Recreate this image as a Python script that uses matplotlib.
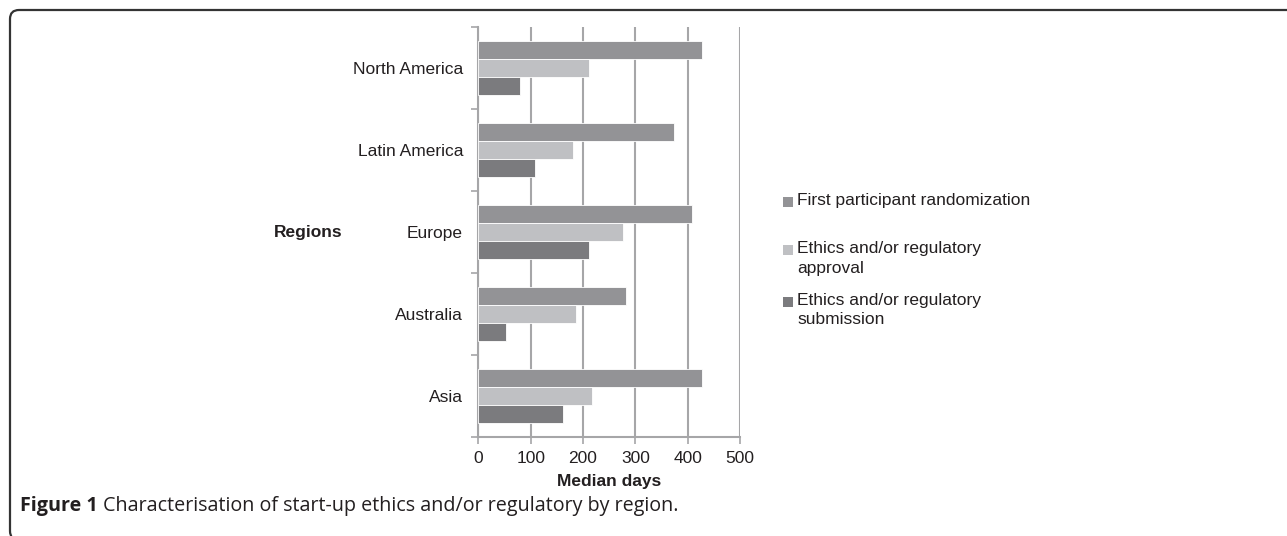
import matplotlib
matplotlib.use("Agg")
import matplotlib.pyplot as plt
from matplotlib.patches import FancyBboxPatch, Rectangle
import numpy as np

regions = ["North America", "Latin America", "Europe", "Australia", "Asia"]
series_names = ["First participant randomization",
                "Ethics and/or regulatory\napproval",
                "Ethics and/or regulatory\nsubmission"]
first_randomization = [427, 373, 408, 282, 427]
ethics_approval = [211, 181, 276, 187, 218]
ethics_submission = [80, 108, 212, 53, 162]
x_ticks = [0, 100, 200, 300, 400, 500]

colors = ["#939396", "#bfc0c3", "#7b7b7e"]
text_color = "#231f20"
grid_color = "#a6a6a8"
fs = 12.5

W, H = 1287, 536
fig = plt.figure(figsize=(W / 100, H / 100), dpi=100)
plt.rcParams['font.family'] = ['Liberation Sans', 'DejaVu Sans']

# axes placement (pixels)
L, R, T, B = 478.3, 740.0, 27.0, 437.0
ax = fig.add_axes([L / W, 1 - B / H, (R - L) / W, (B - T) / H])

y = np.arange(len(regions))
bh = 0.22
series = [first_randomization, ethics_approval, ethics_submission]
offsets = [-bh, 0, bh]
for vals, off, c in zip(series, offsets, colors):
    ax.barh(y + off, vals, height=bh, color=c, edgecolor="white", linewidth=0.6, zorder=3)

ax.set_xlim(0, 500)
ax.set_ylim(len(regions) - 0.5, -0.5)
ax.set_xticks(x_ticks)
ax.set_xticklabels([str(v) for v in x_ticks], fontsize=fs, color=text_color)
ax.set_yticks(y)
ax.set_yticklabels(regions, fontsize=fs, color=text_color)
ax.set_yticks(np.arange(len(regions) + 1) - 0.5, minor=True)
ax.tick_params(axis='y', which='major', length=0, pad=11)
ax.tick_params(axis='y', which='minor', length=5, width=1.2, color=grid_color, direction='out')
ax.tick_params(axis='x', which='major', length=5, width=1.2, color=grid_color, direction='out', pad=5)

ax.grid(axis='x', color=grid_color, linewidth=1.5, zorder=0)
for s in ['top', 'right']:
    ax.spines[s].set_visible(False)
for s in ['left', 'bottom']:
    ax.spines[s].set_color(grid_color)
    ax.spines[s].set_linewidth(1.5)

ax.set_xlabel("Median days", fontsize=fs, fontweight='bold', color=text_color, labelpad=6)
fig.text(308 / W, 1 - 233 / H, "Regions", fontsize=fs, fontweight='bold',
         color=text_color, ha='center', va='center')

# legend (manual)
leg_entries = [(201.7, series_names[0], colors[0]),
               (250.0, series_names[1], colors[1]),
               (301.7, series_names[2], colors[2])]
for yc, lab, c in leg_entries:
    fig.patches.append(Rectangle((783 / W, 1 - (yc + 5) / H), 10 / W, 10 / H,
                                 transform=fig.transFigure, facecolor=c, edgecolor='none'))
    fig.text(797 / W, 1 - (yc - 9) / H, lab, fontsize=fs, color=text_color,
             ha='left', va='top', linespacing=1.4)

# frame
frame = FancyBboxPatch((10, -4), 1300, 530, boxstyle="round,pad=0,rounding_size=9",
                       transform=None, facecolor='none', edgecolor='#333333', linewidth=1.6)
fig.patches.append(frame)

# caption
cap_y = 1 - 506 / H
cfs = 14.2
t1 = fig.text(20 / W, cap_y, "Figure 1", fontsize=cfs, fontweight='bold',
              family=['Open Sans', 'DejaVu Sans'], color=text_color, va='center', ha='left')
fig.canvas.draw()
bb = t1.get_window_extent()
fig.text((bb.x1 + 5) / W, cap_y, "Characterisation of start-up ethics and/or regulatory by region.",
         fontsize=cfs, family=['Open Sans', 'DejaVu Sans'], color=text_color, va='center', ha='left')

fig.savefig("out.png", dpi=100)
